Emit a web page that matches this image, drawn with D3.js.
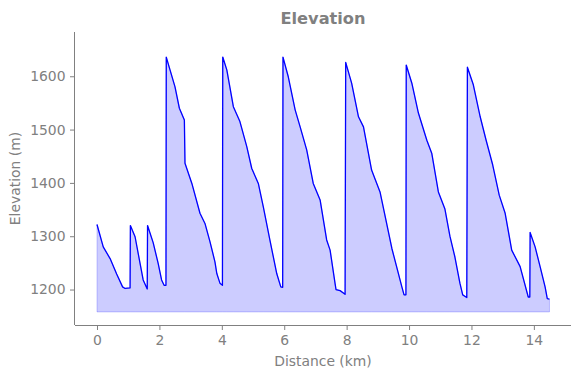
<!doctype html>
<html>
<head>
<style>
body { margin: 0; background: #fff; }
svg { font-family: "DejaVu Sans", sans-serif; }
</style>
<script src="https://cdn.jsdelivr.net/npm/d3@7"></script>
</head>
<body>
<svg width="580" height="378"></svg>
<script>
// distance along the route (km) and elevation (m)
var distance = [
  0, 0.20, 0.42, 0.63, 0.82, 0.90, 1.06,
  1.07, 1.22, 1.38, 1.48, 1.61,
  1.62, 1.80, 1.96, 2.07, 2.15, 2.21,
  2.22, 2.34, 2.50, 2.64, 2.80, 2.82, 3.04, 3.30, 3.46, 3.62, 3.78, 3.84, 3.94, 4.02,
  4.03, 4.16, 4.37, 4.58, 4.80, 4.96, 5.17, 5.33, 5.54, 5.76, 5.89, 5.95,
  5.96, 6.13, 6.35, 6.51, 6.72, 6.93, 7.15, 7.36, 7.47, 7.63, 7.66, 7.79, 7.95,
  7.97, 8.16, 8.38, 8.54, 8.80, 9.07, 9.45, 9.77, 9.84, 9.90,
  9.91, 10.09, 10.30, 10.57, 10.73, 10.94, 11.15, 11.31, 11.47, 11.63, 11.72, 11.85,
  11.87, 12.06, 12.28, 12.47, 12.68, 12.89, 13.08, 13.29, 13.56, 13.82, 13.87,
  13.88, 14.04, 14.20, 14.36, 14.43, 14.50
];
var elevation = [
  1322, 1280, 1258, 1229, 1205, 1202, 1203,
  1320, 1299, 1249, 1218, 1201,
  1320, 1288, 1249, 1218, 1208, 1208,
  1636, 1612, 1580, 1540, 1518, 1437, 1399, 1343, 1324, 1290, 1252, 1230, 1212, 1208,
  1636, 1612, 1543, 1515, 1468, 1427, 1399, 1355, 1293, 1230, 1205, 1204,
  1636, 1599, 1537, 1505, 1462, 1399, 1368, 1293, 1274, 1211, 1200, 1198, 1191,
  1626, 1587, 1524, 1505, 1424, 1383, 1277, 1205, 1190, 1190,
  1621, 1587, 1531, 1480, 1455, 1383, 1351, 1300, 1261, 1212, 1190, 1185,
  1617, 1584, 1524, 1480, 1434, 1377, 1343, 1274, 1243, 1186, 1186,
  1307, 1280, 1243, 1205, 1183, 1182
];
var fillBase = 1158;
var xTicks = [0, 2, 4, 6, 8, 10, 12, 14];
var yTicks = [1200, 1300, 1400, 1500, 1600];

var svg = d3.select("svg"),
    margin = {top: 32, right: 9, bottom: 53, left: 75},
    width = +svg.attr("width") - margin.left - margin.right,
    height = +svg.attr("height") - margin.top - margin.bottom;

var grey = "#808080";

var data = distance.map(function(d, i) { return {d: d, e: elevation[i]}; });

var x = d3.scaleLinear().domain([-0.705, 15.19]).range([0, width]);
var y = d3.scaleLinear().domain([1133.5, 1683]).range([height, 0]);

var g = svg.append("g").attr("transform", "translate(" + margin.left + "," + margin.top + ")");

var area = d3.area()
    .x(function(d) { return x(d.d); })
    .y0(y(fillBase))
    .y1(function(d) { return y(d.e); });

g.append("path")
    .datum(data)
    .attr("d", area)
    .attr("fill", "rgba(0,0,255,0.2)")
    .attr("stroke", "rgba(0,0,255,0.2)")
    .attr("stroke-width", 1);

var line = d3.line()
    .x(function(d) { return x(d.d); })
    .y(function(d) { return y(d.e); });

g.append("path")
    .datum(data)
    .attr("d", line)
    .attr("fill", "none")
    .attr("stroke", "#0000ff")
    .attr("stroke-width", 1.3)
    .attr("stroke-linejoin", "round");

var xAxis = g.append("g")
    .attr("transform", "translate(0," + height + ")")
    .call(d3.axisBottom(x).tickValues(xTicks).tickSize(5).tickPadding(5.5).tickFormat(d3.format("d")));
var yAxis = g.append("g")
    .call(d3.axisLeft(y).tickValues(yTicks).tickSize(5).tickPadding(4.5).tickFormat(d3.format("d")));

[xAxis, yAxis].forEach(function(a) {
  a.selectAll(".domain").attr("stroke", grey);
  a.selectAll(".tick line").attr("stroke", grey);
  a.selectAll(".tick text").attr("fill", grey).style("font-size", "13.9px").style("font-family", "DejaVu Sans");
});
xAxis.select(".domain").attr("d", "M0,0.5H" + width);
yAxis.select(".domain").attr("d", "M-0.5,0V" + height);

svg.append("text")
    .attr("x", margin.left + width / 2)
    .attr("y", 24)
    .attr("text-anchor", "middle")
    .attr("fill", grey)
    .style("font-size", "16.2px")
    .style("font-weight", "bold")
    .text("Elevation");

svg.append("text")
    .attr("x", margin.left + width / 2)
    .attr("y", 366)
    .attr("text-anchor", "middle")
    .attr("fill", grey)
    .style("font-size", "13.9px")
    .text("Distance (km)");

svg.append("text")
    .attr("transform", "translate(20," + (margin.top + height / 2) + ") rotate(-90)")
    .attr("text-anchor", "middle")
    .attr("fill", grey)
    .style("font-size", "13.9px")
    .text("Elevation (m)");
</script>
</body>
</html>
